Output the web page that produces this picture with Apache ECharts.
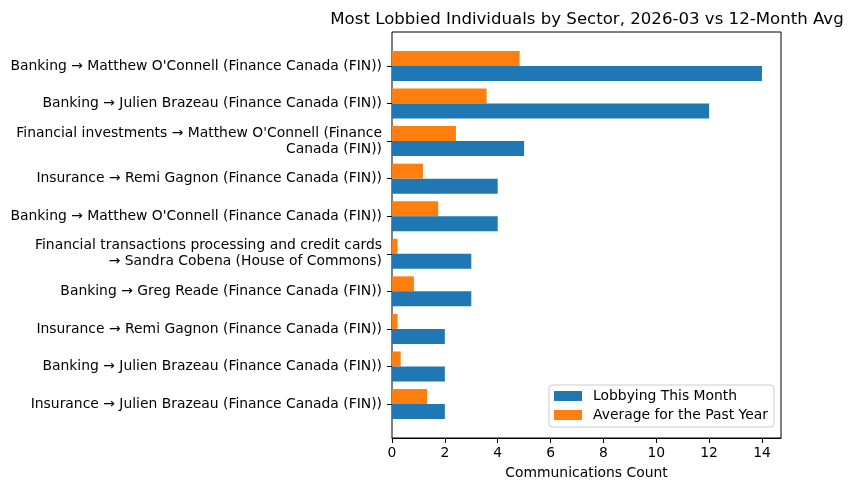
<!DOCTYPE html>
<html>
<head>
<meta charset="utf-8">
<script src="https://cdn.jsdelivr.net/npm/echarts@6/dist/echarts.min.js"></script>
<style>
  html, body { margin: 0; padding: 0; background: #fff; }
  #chart { width: 853px; height: 491px; }
</style>
</head>
<body>
<div id="chart"></div>
<script>
// categories top to bottom
const categories = [
    "Banking \u2192 Matthew O'Connell (Finance Canada (FIN))",
    "Banking \u2192 Julien Brazeau (Finance Canada (FIN))",
    "Financial investments \u2192 Matthew O'Connell (Finance\nCanada (FIN))",
    "Insurance \u2192 Remi Gagnon (Finance Canada (FIN))",
    "Banking \u2192 Matthew O'Connell (Finance Canada (FIN))",
    "Financial transactions processing and credit cards\n\u2192 Sandra Cobena (House of Commons)",
    "Banking \u2192 Greg Reade (Finance Canada (FIN))",
    "Insurance \u2192 Remi Gagnon (Finance Canada (FIN))",
    "Banking \u2192 Julien Brazeau (Finance Canada (FIN))",
    "Insurance \u2192 Julien Brazeau (Finance Canada (FIN))"
];
const thisMonth = [14, 12, 5, 4, 4, 3, 3, 2, 2, 2];
const pastYearAvg = [4.83, 3.58, 2.42, 1.17, 1.75, 0.21, 0.83, 0.21, 0.33, 1.33];
const xTicks = [0, 2, 4, 6, 8, 10, 12, 14];
const xMax = 14.72;

const font = 'DejaVu Sans';
const chart = echarts.init(document.getElementById('chart'));

const option = {
    animation: false,
    textStyle: {fontFamily: font, color: '#000'},
    title: {
        text: 'Most Lobbied Individuals by Sector, 2026-03 vs 12-Month Avg',
        left: 582,
        top: 6,
        textAlign: 'center',
        textStyle: {fontFamily: font, fontSize: 16.6, fontWeight: 'normal', color: '#000'}
    },
    legend: {
        orient: 'vertical',
        left: 549,
        top: 385,
        data: ['Lobbying This Month', 'Average for the Past Year'],
        icon: 'rect',
        itemWidth: 28,
        itemHeight: 10,
        itemGap: 5,
        padding: [4, 6, 5, 5],
        borderColor: '#cccccc',
        borderWidth: 1,
        borderRadius: 3,
        textStyle: {fontFamily: font, fontSize: 13.9, color: '#000', padding: [0, 0, 0, 6]}
    },
    grid: [
        // frame + x axis
        {left: 392, right: 72, top: 32, bottom: 53, show: true, borderColor: '#000', borderWidth: 1},
        // bars
        {left: 392, right: 72, top: 47.2, bottom: 68.2}
    ],
    xAxis: [
        {
            gridIndex: 0, type: 'value', min: 0, max: xMax,
            name: 'Communications Count', nameLocation: 'middle', nameGap: 28,
            nameTextStyle: {fontFamily: font, fontSize: 13.9, color: '#000'},
            axisLine: {show: true, lineStyle: {color: '#000'}},
            axisTick: {show: true, length: 5, lineStyle: {color: '#000'}, customValues: xTicks},
            axisLabel: {fontFamily: font, fontSize: 13.9, color: '#000', margin: 8, customValues: xTicks},
            splitLine: {show: false}
        },
        {gridIndex: 1, type: 'value', min: 0, max: xMax, show: false}
    ],
    yAxis: [
        {gridIndex: 0, type: 'value', show: false},
        {
            gridIndex: 1, type: 'category', inverse: true, data: categories,
            axisLine: {show: false},
            axisTick: {show: true, length: 5, alignWithLabel: true, lineStyle: {color: '#000'}},
            axisLabel: {fontFamily: font, fontSize: 13.9, color: '#000', margin: 10, lineHeight: 16, interval: 0}
        }
    ],
    series: [
        {
            name: 'Average for the Past Year', type: 'bar',
            xAxisIndex: 1, yAxisIndex: 1,
            data: pastYearAvg, barWidth: 15, barGap: '0%',
            itemStyle: {color: '#ff7f0e'}
        },
        {
            name: 'Lobbying This Month', type: 'bar',
            xAxisIndex: 1, yAxisIndex: 1,
            data: thisMonth, barWidth: 15, barGap: '0%',
            itemStyle: {color: '#1f77b4'}
        }
    ]
};

chart.setOption(option);
</script>
</body>
</html>
